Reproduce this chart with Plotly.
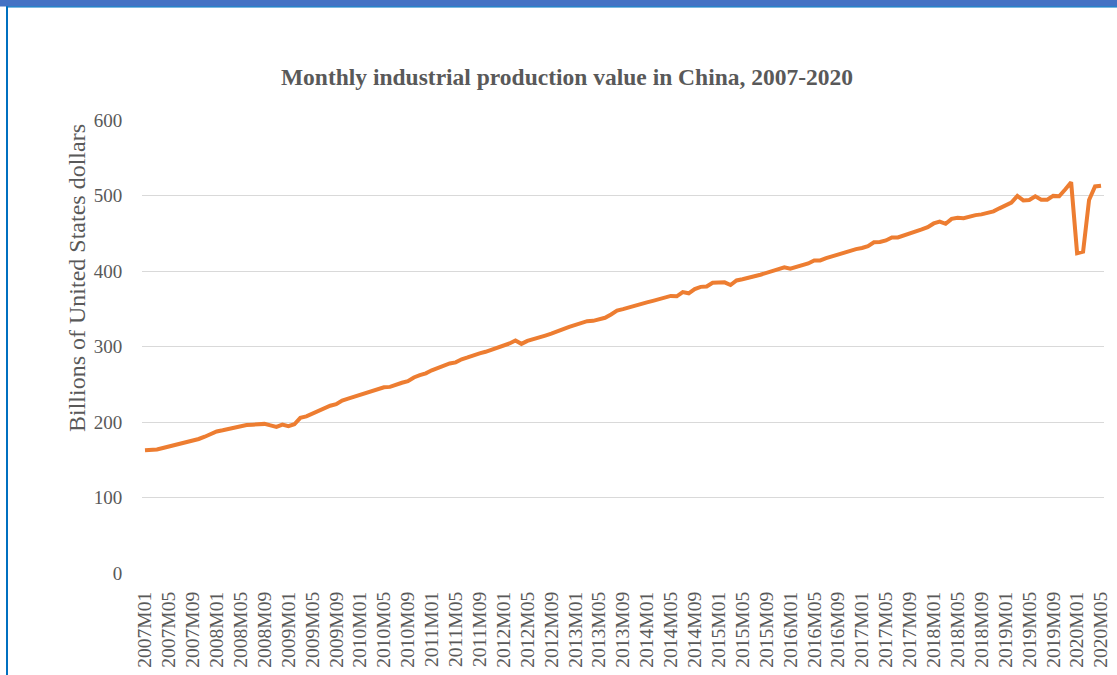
import plotly.graph_objects as go

W, H = 1117, 675
L, R, T, B = 142, 13, 120, 102

start_year = 2007
n_months = 161
months = [f"{start_year + i // 12}M{(i % 12) + 1:02d}" for i in range(n_months)]

values = [
    162.5, 163, 163.5, 165.5, 167.5, 169, 170.5, 173, 175, 177.5, 180.5, 183.5,
    187.5, 189, 191, 193, 194, 196, 196.5, 197, 197.5, 195.5, 193.5, 196.5,
    194.5, 197, 205.5, 207.5, 211, 215.5, 218.5, 221.5, 223.5, 228.5, 231, 233.5,
    236.5, 239, 241.5, 244, 246, 246.5, 249.5, 252, 254, 259, 262, 264.5,
    268.5, 271.5, 275.5, 277.5, 279, 283, 285.5, 288.5, 291, 293, 295.5, 298.5,
    301.5, 304, 308, 303.5, 307.5, 309.5, 312, 314.5, 317, 319.5, 323, 326,
    328.5, 331.5, 333.5, 334, 336, 338, 342.5, 347.5, 349.5, 352, 354.5, 357,
    358.5, 360.5, 363, 365.5, 367, 366.5, 372, 370.5, 376, 379, 379.5, 384.5,
    384.5, 385, 381.5, 387.5, 389, 391.5, 393, 395, 397.5, 399.5, 402.5, 405,
    403, 405, 407.5, 410, 414, 414, 417, 419.5, 421.5, 424.5, 427.5, 429,
    430.5, 433, 438, 438.5, 440.5, 444.5, 444.5, 447, 449, 451.5, 455, 458,
    463, 465.5, 462.5, 469, 470.5, 470, 472.5, 474, 475, 476.5, 479, 483,
    487.5, 490.5, 499.5, 493.5, 494, 499, 494.5, 494.5, 499.5, 499, 508, 517.5,
    423.5, 425.5, 494, 512, 513,
]

tick_labels = months[::4]
y_ticks = [0, 100, 200, 300, 400, 500, 600]

title_text = "Monthly industrial production value in China, 2007-2020"
y_title = "Billions of United States dollars"

FONT = "Liberation Serif"
GRAY = "#595959"


def px_x(px):
    return (px - L) / (W - L - R)


def px_y(py):
    return 1 - (py - T) / (H - T - B)


fig = go.Figure()
fig.add_trace(go.Scatter(
    x=months, y=values, mode="lines",
    line=dict(color="#ED7D31", width=4),
    hoverinfo="x+y", showlegend=False,
))

fig.update_layout(
    width=W, height=H,
    margin=dict(l=L, r=R, t=T, b=B, pad=0),
    paper_bgcolor="white", plot_bgcolor="white",
    font=dict(family=FONT, color=GRAY, size=19),
    title=dict(
        text=f"<b>{title_text}</b>",
        x=567 / W, xanchor="center",
        y=1 - 77 / H, yanchor="middle", yref="container",
        font=dict(family=FONT, size=23.5, color=GRAY),
    ),
    xaxis=dict(
        type="category",
        range=[-0.5, n_months - 0.5],
        tickmode="array", tickvals=tick_labels, ticktext=tick_labels,
        tickangle=-90,
        ticks="outside", ticklen=10, tickcolor="rgba(0,0,0,0)",
        showgrid=False, showline=False, zeroline=False,
        automargin=False,
        tickfont=dict(family=FONT, size=19.5, color=GRAY),
    ),
    yaxis=dict(
        range=[0, 600],
        tickmode="array", tickvals=y_ticks,
        ticks="outside", ticklen=15, tickcolor="rgba(0,0,0,0)",
        showgrid=True, gridcolor="#D9D9D9", gridwidth=1.3,
        zeroline=False, showline=False,
        automargin=False,
        tickfont=dict(family=FONT, size=19, color=GRAY),
    ),
    annotations=[dict(
        text=y_title, textangle=-90,
        x=px_x(77), y=px_y(278), xref="paper", yref="paper",
        xanchor="center", yanchor="middle", showarrow=False,
        font=dict(family=FONT, size=24, color=GRAY),
    )],
    shapes=[
        dict(type="rect", xref="paper", yref="paper",
             x0=px_x(0), x1=px_x(W), y0=px_y(0), y1=px_y(6.5),
             fillcolor="#4472C4", line=dict(width=0), layer="above"),
        dict(type="rect", xref="paper", yref="paper",
             x0=px_x(6), x1=px_x(W), y0=px_y(6.2), y1=px_y(7.6),
             fillcolor="#0070C0", line=dict(width=0), layer="above"),
        dict(type="rect", xref="paper", yref="paper",
             x0=px_x(6), x1=px_x(8), y0=px_y(6.2), y1=px_y(H),
             fillcolor="#0070C0", line=dict(width=0), layer="above"),
    ],
)

fig.write_html(
    "out.html",
    config={"displayModeBar": False},
    post_script="document.body.style.margin='0';document.body.style.padding='0';",
)
